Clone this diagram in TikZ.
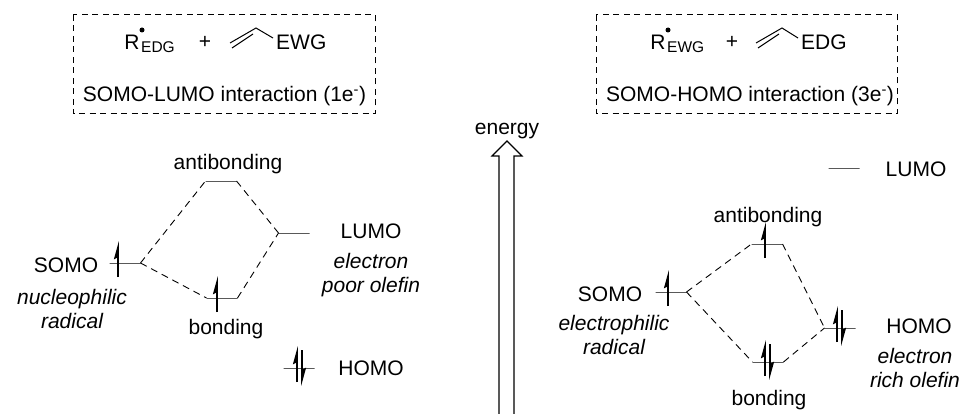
\documentclass[tikz,border=0pt]{standalone}
\usepackage{fontspec}
\setmainfont{Liberation Sans}
\usetikzlibrary{arrows.meta}

\tikzset{
  lbl/.style={inner sep=0pt, anchor=base, font=\fontsize{21}{23}\selectfont},
  lblit/.style={lbl, font=\fontsize{21}{23}\selectfont\itshape},
  lblsub/.style={lbl, anchor=base west, font=\fontsize{15.5}{17}\selectfont},
  radicaldot/.style={circle, fill, inner sep=0pt, minimum size=5pt},
  framebox/.style={draw, line width=1pt, dash pattern=on 6pt off 4.5pt},
  orbital/.style={draw, line width=0.9pt, minimum width=31pt, minimum height=0pt, inner sep=0pt, outer sep=0pt},
  mix/.style={line width=0.9pt, dash pattern=on 7pt off 5pt},
  spin/.style={line width=1.7pt, -{Stealth[harpoon,length=15pt,width=8pt,inset=2pt]}}
}

\begin{document}
\begin{tikzpicture}[x=1pt,y=-1pt]
  \useasboundingbox (0,0) rectangle (965,414);

  % boxes on top
  \draw[framebox] (73,15) rectangle (375,114);
  \draw[framebox] (596,15) rectangle (897,114);

  % left box
  \node[lbl] (rL) at (132,50) {R};
  \node[lblsub] (subL) at (141,53) {EDG};
  \node[radicaldot] (dotL) at (142,30) {};
  \node[lbl] (plusL) at (205,49) {+};
  \node[lbl, anchor=base west] (ewgL) at (276,50) {EWG};
  \coordinate (vaL) at (230,43);
  \coordinate (vbL) at (256,28);
  \coordinate (vcL) at (232,48);
  \coordinate (vdL) at (253,34);
  \coordinate (veL) at (273,38);
  \draw[line width=1pt] (vaL) -- (vbL) -- (veL);
  \draw[line width=1pt] (vcL) -- (vdL);
  \node[lbl] (titleL) at (224.5,102) {SOMO-LUMO interaction (1e\textsuperscript{-})};

  % right box
  \node[lbl] (rR) at (658,50) {R};
  \node[lblsub] (subR) at (667,53) {EWG};
  \node[radicaldot] (dotR) at (668,30) {};
  \node[lbl] (plusR) at (732,49) {+};
  \node[lbl, anchor=base west] (edgR) at (801,50) {EDG};
  \coordinate (vaR) at (756,43);
  \coordinate (vbR) at (782,28);
  \coordinate (vcR) at (758,48);
  \coordinate (vdR) at (779,34);
  \coordinate (veR) at (798,38);
  \draw[line width=1pt] (vaR) -- (vbR) -- (veR);
  \draw[line width=1pt] (vcR) -- (vdR);
  \node[lbl] (titleR) at (750,102) {SOMO-HOMO interaction (3e\textsuperscript{-})};

  % energy arrow
  \node[lbl] (energy) at (507,135) {energy};
  \draw[line width=1.1pt] (499,415) -- (499,156) -- (492,156) -- (507,141) -- (522,156) -- (514,156) -- (514,415);

  % levels left
  \node[orbital] (somoA) at (125,263) {};
  \node[orbital] (antiA) at (221,181) {};
  \node[orbital] (bondA) at (222,298) {};
  \node[orbital] (lumoA) at (294,233) {};
  \node[orbital] (homoA) at (299,368) {};

  \draw[mix] (somoA.east) -- (antiA.west);
  \draw[mix] (somoA.east) -- (bondA.west);
  \draw[mix] (antiA.east) -- (lumoA.west);
  \draw[mix] (bondA.east) -- (lumoA.west);

  % levels right
  \node[orbital] (somoB) at (671,292) {};
  \node[orbital] (antiB) at (767,244) {};
  \node[orbital] (bondB) at (768,362) {};
  \node[orbital] (lumoB) at (844,168) {};
  \node[orbital] (homoB) at (840,328) {};

  \draw[mix] (somoB.east) -- (antiB.west);
  \draw[mix] (somoB.east) -- (bondB.west);
  \draw[mix] (antiB.east) -- (homoB.west);
  \draw[mix] (bondB.east) -- (homoB.west);

  % electrons
  \foreach \x/\y in {118/263, 217/298, 297/368, 668/292, 765/244, 765/362, 837/328}{
    \draw[spin] (\x,\y+14) -- (\x,\y-22);
  }
  \foreach \x/\y in {302/368, 770/362, 842/328}{
    \draw[spin] (\x,\y-18) -- (\x,\y+18);
  }

  % labels left
  \node[lbl] (somoAl) at (66,272) {SOMO};
  \node[lblit] (nucA) at (72,304) {nucleophilic};
  \node[lblit] (radA) at (72,328) {radical};
  \node[lbl] (antiAl) at (228,170) {antibonding};
  \node[lbl] (bondAl) at (226,334) {bonding};
  \node[lbl] (lumoAl) at (371,238) {LUMO};
  \node[lblit] (elecA) at (371,268) {electron};
  \node[lblit] (poorA) at (371,292) {poor olefin};
  \node[lbl] (homoAl) at (371,375) {HOMO};

  % labels right
  \node[lbl] (somoBl) at (610,301) {SOMO};
  \node[lblit] (eleB) at (614,330) {electrophilic};
  \node[lblit] (radB) at (614,354) {radical};
  \node[lbl] (antiBl) at (768,222) {antibonding};
  \node[lbl] (bondBl) at (769,405) {bonding};
  \node[lbl] (lumoBl) at (916,176) {LUMO};
  \node[lbl] (homoBl) at (919,333) {HOMO};
  \node[lblit] (elecB) at (915,363) {electron};
  \node[lblit] (richB) at (915,387) {rich olefin};
\end{tikzpicture}
\end{document}
